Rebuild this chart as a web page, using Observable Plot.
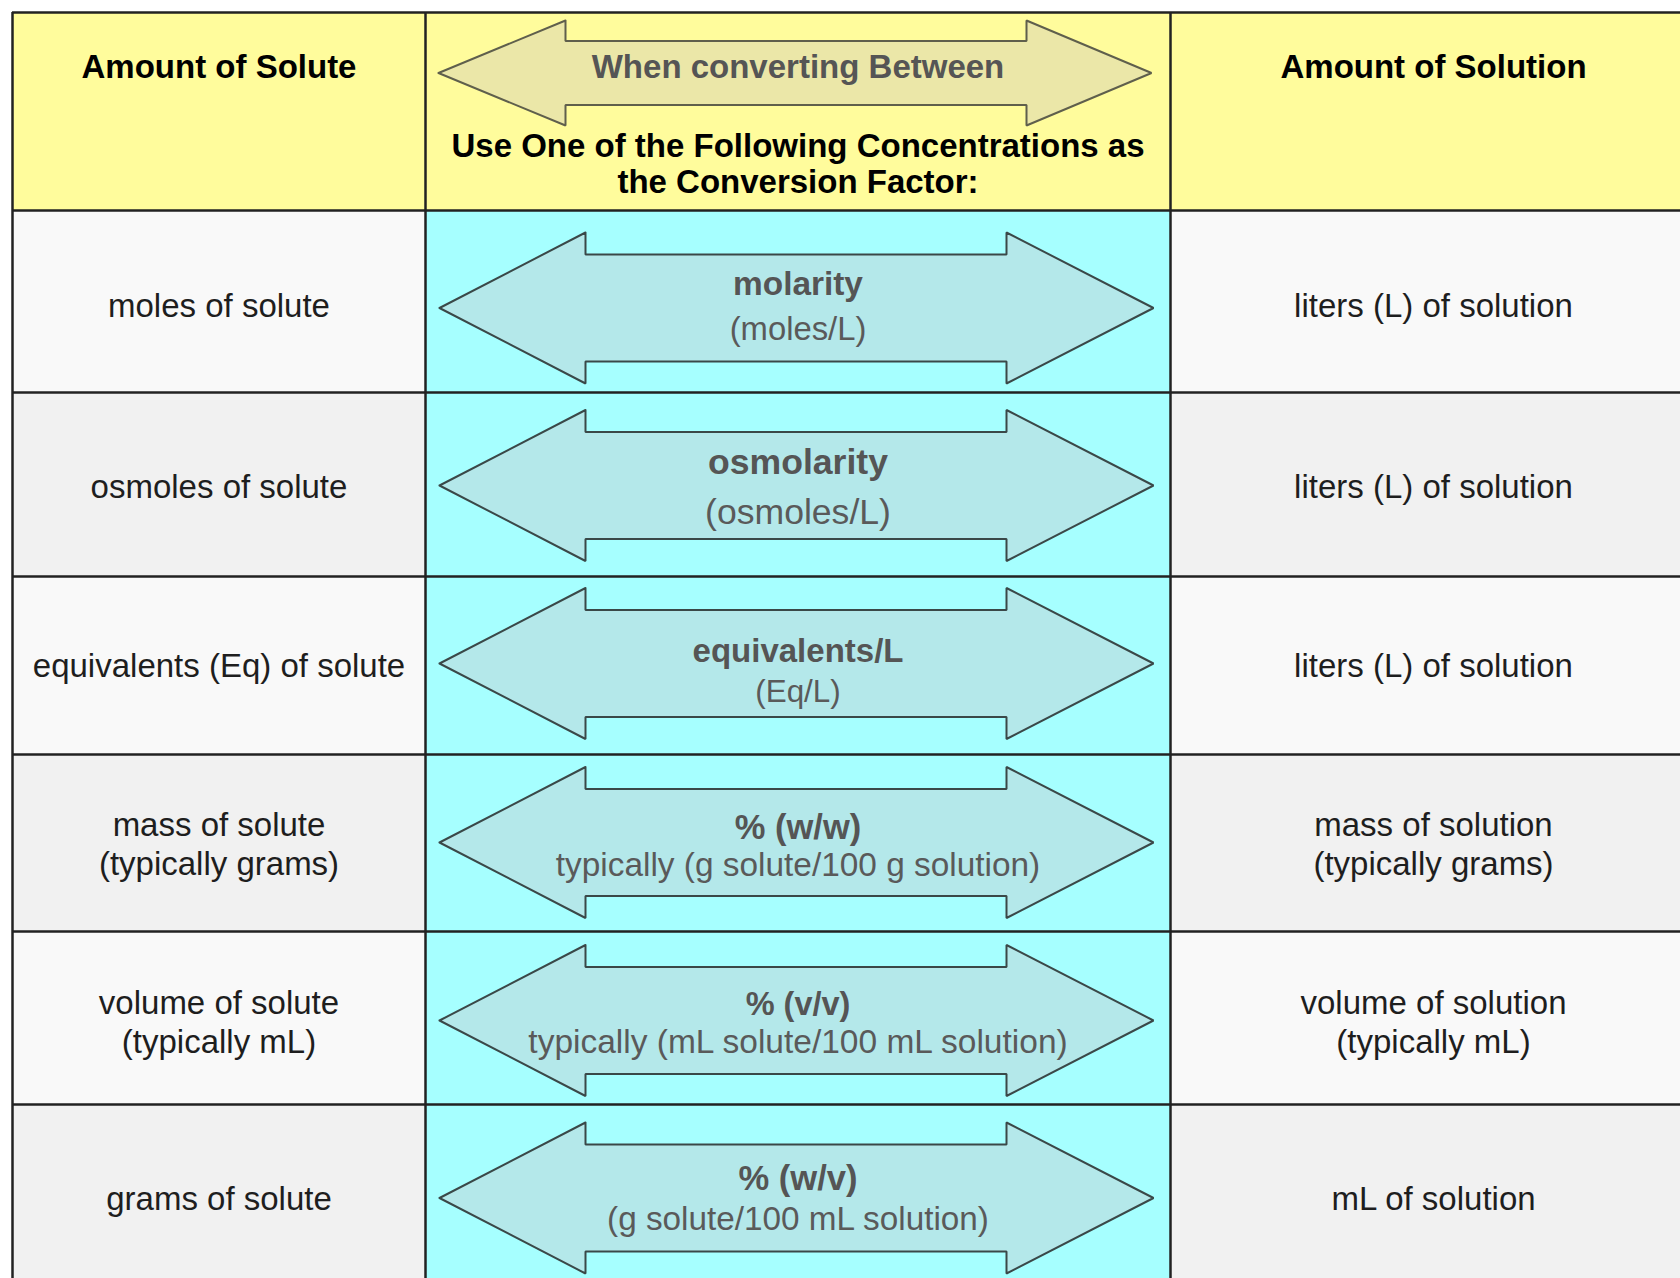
<!DOCTYPE html>
<html>
<head>
<meta charset="utf-8">
<script src="https://cdn.jsdelivr.net/npm/d3@7"></script>
<script src="https://cdn.jsdelivr.net/npm/@observablehq/plot@0.6"></script>
<style>
  html, body { margin: 0; padding: 0; background: #ffffff; overflow: hidden; }
  #chart svg { display: block; }
</style>
</head>
<body>
<div id="chart"></div>
<script>
// ---------- content ----------
const headers = ["Amount of Solute", "When converting Between", "Amount of Solution"];
const headerNote = "Use One of the Following Concentrations as\nthe Conversion Factor:";
const soluteAmounts = [
  "moles of solute",
  "osmoles of solute",
  "equivalents (Eq) of solute",
  "mass of solute\n(typically grams)",
  "volume of solute\n(typically mL)",
  "grams of solute"
];
const concentrations = ["molarity", "osmolarity", "equivalents/L", "% (w/w)", "% (v/v)", "% (w/v)"];
const concentrationUnits = [
  "(moles/L)",
  "(osmoles/L)",
  "(Eq/L)",
  "typically (g solute/100 g solution)",
  "typically (mL solute/100 mL solution)",
  "(g solute/100 mL solution)"
];
const solutionAmounts = [
  "liters (L) of solution",
  "liters (L) of solution",
  "liters (L) of solution",
  "mass of solution\n(typically grams)",
  "volume of solution\n(typically mL)",
  "mL of solution"
];

// ---------- layout (pixels) ----------
const W = 1680, H = 1278;
const colEdges = [12, 425, 1170, 1696];
const rowEdges = [12, 210, 392, 576, 754, 931, 1104, 1300];
const arrowMid = [307.5, 485, 663, 842, 1020, 1197.5];
const textMid = [304, 485, 664, 842.5, 1020.5, 1197];
const titleBase = [294, 473, 661, 838, 1014.5, 1189.5];
const unitBase = [339, 523, 701.5, 875.5, 1052, 1229];
const titleSize = [33.4, 35.6, 33, 34.5, 32.5, 34.6];
const unitSize = [32.8, 35.6, 31.4, 33.4, 33.5, 33.3];
const headerSize = 33;
const headerBase = 77;
const noteMid = 162.5;
const bodyArrow = {tipL: 439, baseL: 585, baseR: 1006, tipR: 1153, head: 75.5, shaft: 53.5};
const headArrow = {tipL: 438, baseL: 565, baseR: 1026, tipR: 1151, head: 52.5, shaft: 32, mid: 72.5};

const colCenter = i => (colEdges[i] + colEdges[i + 1]) / 2;
const FONT = "'Liberation Sans', Arial, Helvetica, sans-serif";

// ---------- derived tables ----------
const cells = [];
headers.forEach((h, c) => cells.push({x1: colEdges[c], x2: colEdges[c + 1], y1: rowEdges[0], y2: rowEdges[1], fill: "#fffc9c"}));
soluteAmounts.forEach((s, r) => {
  const bg = r % 2 === 0 ? "#f9f9f9" : "#f1f1f1";
  [bg, "#a6ffff", bg].forEach((fill, c) =>
    cells.push({x1: colEdges[c], x2: colEdges[c + 1], y1: rowEdges[r + 1], y2: rowEdges[r + 2], fill}));
});

function arrowPts(id, mid, g) {
  const p = [
    [g.tipL, mid], [g.baseL, mid - g.head], [g.baseL, mid - g.shaft], [g.baseR, mid - g.shaft],
    [g.baseR, mid - g.head], [g.tipR, mid], [g.baseR, mid + g.head], [g.baseR, mid + g.shaft],
    [g.baseL, mid + g.shaft], [g.baseL, mid + g.head], [g.tipL, mid], [g.baseL, mid - g.head]
  ];
  return p.map(([x, y]) => ({id, x, y}));
}
const bodyArrows = concentrations.flatMap((c, i) => arrowPts(i, arrowMid[i], bodyArrow));
const headerArrow = arrowPts("h", headArrow.mid, headArrow);

const sideText = [
  ...soluteAmounts.map((t, i) => ({t, x: colCenter(0), y: textMid[i]})),
  ...solutionAmounts.map((t, i) => ({t, x: colCenter(2), y: textMid[i]}))
];
const titleText = concentrations.map((t, i) => ({t, x: colCenter(1), y: titleBase[i], s: titleSize[i]}));
const unitText = concentrationUnits.map((t, i) => ({t, x: colCenter(1), y: unitBase[i], s: unitSize[i]}));
const headerText = [
  {t: headers[0], x: colCenter(0), y: headerBase},
  {t: headers[2], x: colCenter(2), y: headerBase}
];

const chart = Plot.plot({
  width: W,
  height: H,
  margin: 0,
  x: {type: "identity", axis: null},
  y: {type: "identity", axis: null},
  style: {background: "#ffffff", overflow: "hidden", fontFamily: FONT},
  marks: [
    Plot.rect(cells, {x1: "x1", x2: "x2", y1: "y1", y2: "y2", fill: d => d.fill}),
    Plot.line(headerArrow, {x: "x", y: "y", z: "id", fill: "#ebe7a8", stroke: "#5f5f4c", strokeWidth: 2, strokeLinejoin: "miter", curve: "linear"}),
    Plot.line(bodyArrows, {x: "x", y: "y", z: "id", fill: "#b4e8ea", stroke: "#3a4848", strokeWidth: 2, strokeLinejoin: "miter", curve: "linear"}),
    Plot.ruleY(rowEdges.slice(0, 7), {y: d => d, x1: colEdges[0], x2: colEdges[3], stroke: "#222222", strokeWidth: 2.5}),
    Plot.ruleX(colEdges, {x: d => d, y1: rowEdges[0], y2: rowEdges[7], stroke: "#222222", strokeWidth: 2.5}),
    Plot.text(headerText, {x: "x", y: "y", text: "t", fontSize: headerSize, fontWeight: "bold", fill: "#000000", textAnchor: "middle", lineAnchor: "bottom", fontFamily: FONT}),
    Plot.text([headers[1]], {x: colCenter(1), y: headerBase, text: d => d, fontSize: headerSize, fontWeight: "bold", fill: "#555555", textAnchor: "middle", lineAnchor: "bottom", fontFamily: FONT}),
    Plot.text([headerNote], {x: colCenter(1), y: noteMid, text: d => d, fontSize: headerSize, fontWeight: "bold", fill: "#000000", textAnchor: "middle", lineAnchor: "middle", lineHeight: 1.09, fontFamily: FONT}),
    Plot.text(sideText, {x: "x", y: "y", text: "t", fontSize: 33, fill: "#1e1e1e", textAnchor: "middle", lineAnchor: "middle", lineHeight: 1.18, fontFamily: FONT}),
    Plot.text(titleText, {x: "x", y: "y", text: "t", fontSize: "s", fontWeight: "bold", fill: "#555555", textAnchor: "middle", lineAnchor: "bottom", fontFamily: FONT}),
    Plot.text(unitText, {x: "x", y: "y", text: "t", fontSize: "s", fill: "#5a5a5a", textAnchor: "middle", lineAnchor: "bottom", fontFamily: FONT})
  ]
});
document.getElementById("chart").appendChild(chart);
</script>
</body>
</html>
